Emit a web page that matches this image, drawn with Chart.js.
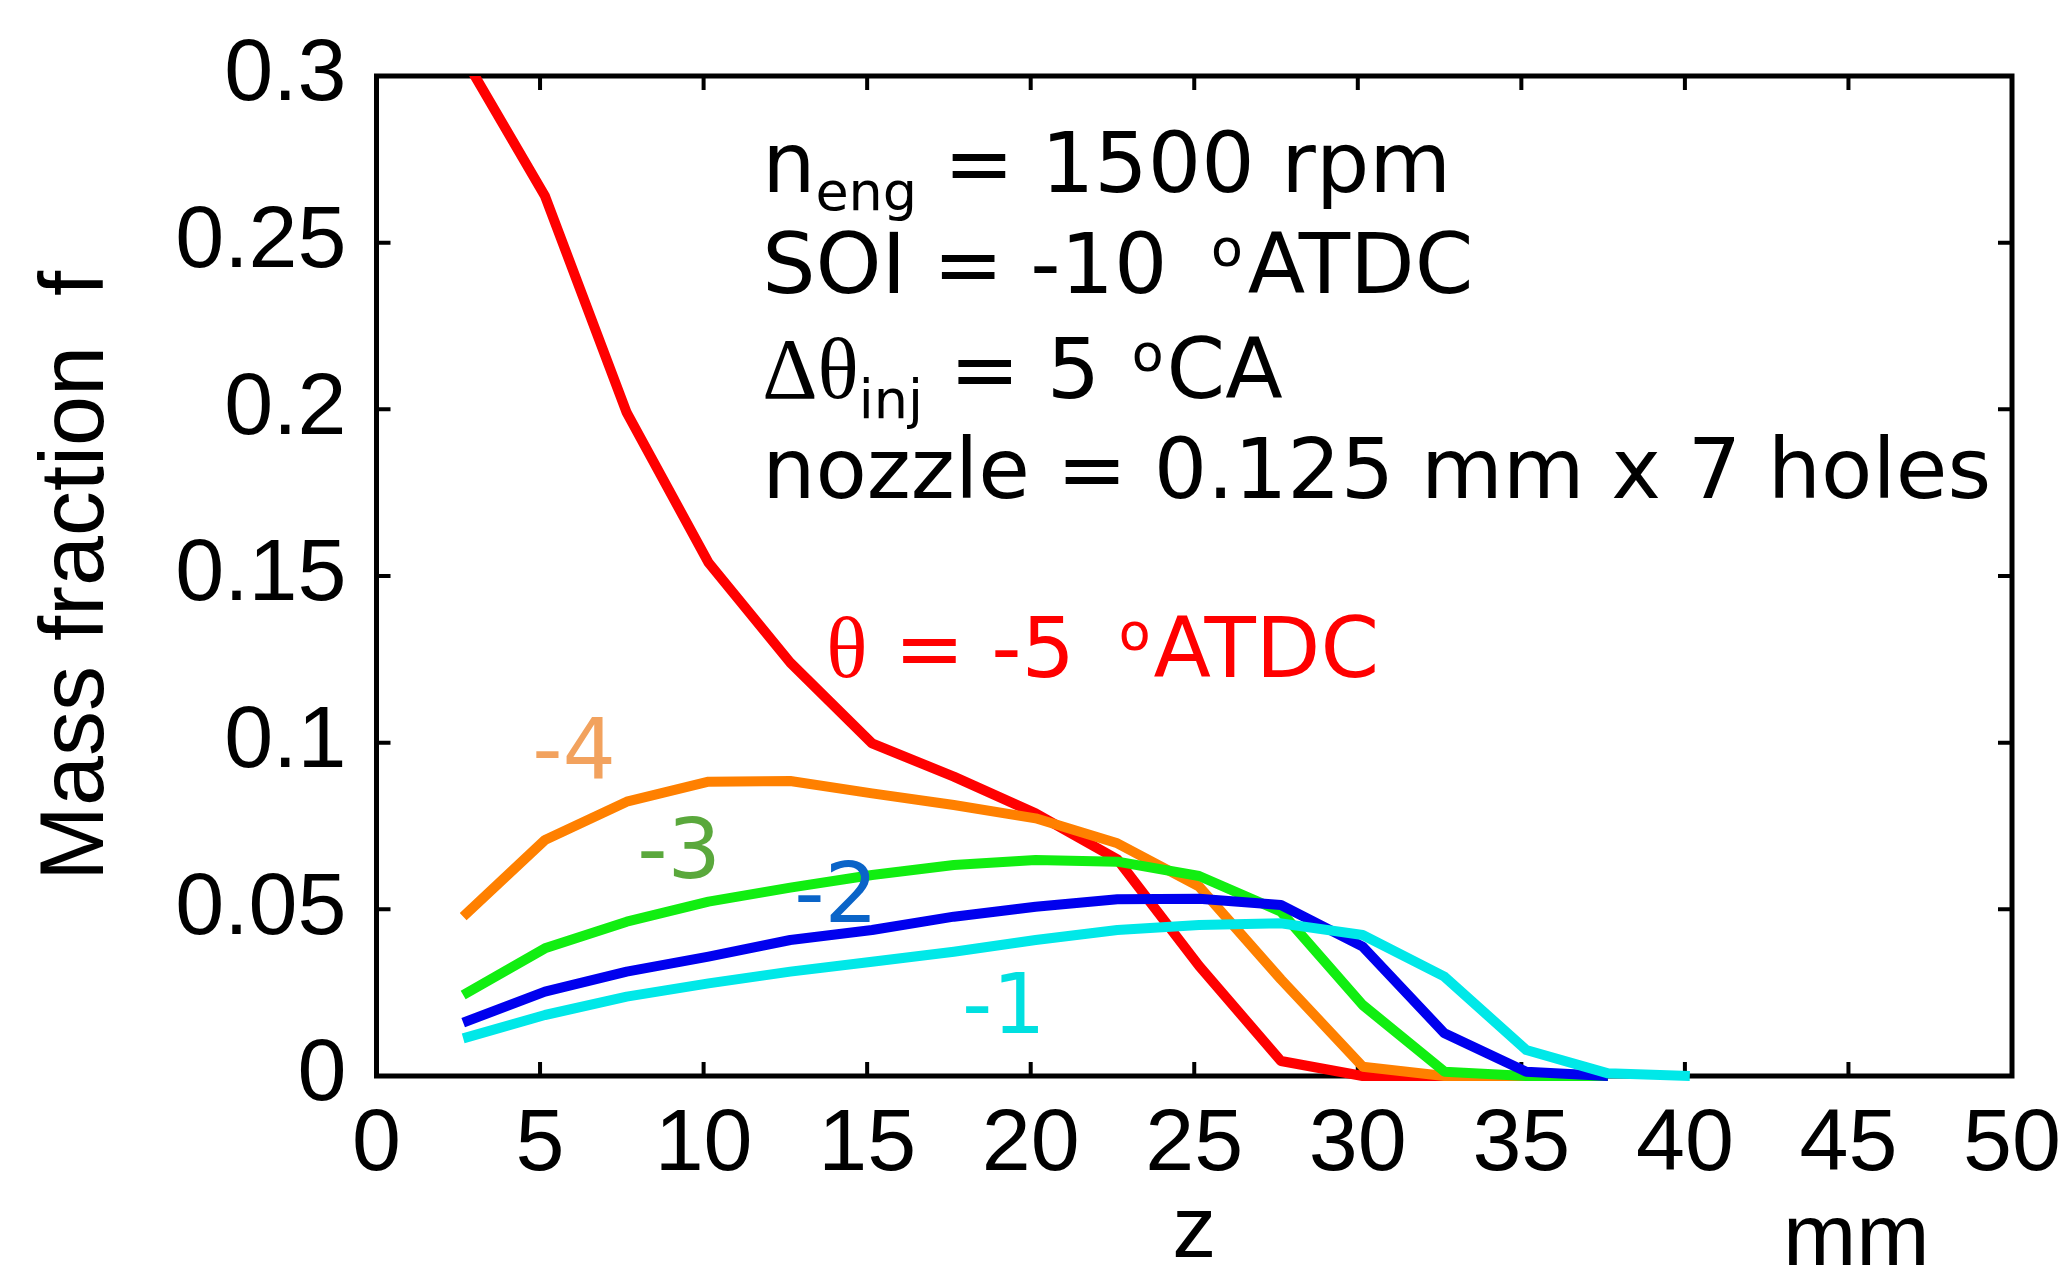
<!DOCTYPE html>
<html><head><meta charset="utf-8">
<script src="https://cdn.jsdelivr.net/npm/chart.js@4.4.1/dist/chart.umd.min.js"></script>
<style>html,body{margin:0;padding:0;background:#fff;}canvas{display:block;}</style>
</head><body>
<canvas id="c" width="2072" height="1279"></canvas>
<script>
// ---- data ----
const zGrid   = [2.65, 5.15, 7.65, 10.15, 12.65, 15.15, 17.65, 20.15, 22.65, 25.15, 27.65, 30.15, 32.65, 35.15, 37.65, 40.15];
const fTheta5 = [0.306, 0.264, 0.199, 0.154, 0.124, 0.0998, 0.0898, 0.0788, 0.065, 0.033, 0.0045, 0, 0];
const fTheta4 = [0.0478, 0.0708, 0.0823, 0.0883, 0.0885, 0.0848, 0.0813, 0.0773, 0.0698, 0.0568, 0.029, 0.0028, 0, 0];
const fTheta3 = [0.0243, 0.0383, 0.0463, 0.0523, 0.0565, 0.0603, 0.0633, 0.0648, 0.0643, 0.0600, 0.0493, 0.0213, 0.0013, 0, 0];
const fTheta2 = [0.016, 0.0253, 0.0313, 0.0358, 0.0408, 0.0438, 0.0478, 0.0508, 0.0530, 0.0532, 0.0513, 0.0388, 0.0128, 0.0013, 0];
const fTheta1 = [0.0113, 0.0183, 0.0238, 0.0278, 0.0313, 0.0343, 0.0373, 0.0408, 0.0438, 0.0453, 0.0458, 0.0423, 0.0298, 0.0078, 0.0008, 0];
const xTicks = [0, 5, 10, 15, 20, 25, 30, 35, 40, 45, 50];
const xTickLabels = ['0', '5', '10', '15', '20', '25', '30', '35', '40', '45', '50'];
const yTicks = [0, 0.05, 0.1, 0.15, 0.2, 0.25, 0.3];
const yTickLabels = ['0', '0.05', '0.1', '0.15', '0.2', '0.25', '0.3'];
const seriesNames = ['-1', '-2', '-3', '-4', '-5'];

function pts(vals) { return vals.map((v, i) => ({ x: zGrid[i], y: v })); }

const MAIN = '84px "DejaVu Sans"';
const SUB = '54px "DejaVu Sans"';
const SUP = '52px "DejaVu Sans"';
const GREEK = '86px "Liberation Serif"';

// text annotations anchored in data coordinates
const notes = [
  { x: 11.79, y: 0.2653, color: '#000', runs: [{ t: 'n' }, { t: 'eng', font: SUB, dy: 18 }, { t: ' = 1500 rpm' }] },
  { x: 11.79, y: 0.2348, color: '#000', runs: [{ t: 'SOI = -10 ' }, { t: 'o', font: SUP, dy: -27, pre: 17, post: 5 }, { t: 'ATDC' }] },
  { x: 11.79, y: 0.2034, color: '#000', runs: [{ t: 'Δθ', font: GREEK }, { t: 'inj', font: SUB, dy: 20 }, { t: ' = 5 ' }, { t: 'o', font: SUP, dy: -27, pre: 5, post: 3 }, { t: 'CA' }] },
  { x: 11.79, y: 0.1734, color: '#000', runs: [{ t: 'nozzle = 0.125 mm x 7 holes' }] },
  { x: 13.75, y: 0.1197, color: '#ff0000', runs: [{ t: 'θ', font: GREEK }, { t: ' = -5 ' }, { t: 'o', font: SUP, dy: -27, pre: 17, post: 3 }, { t: 'ATDC' }] },
  { x: 4.76, y: 0.0894, color: '#f2a25e', runs: [{ t: '-4' }] },
  { x: 7.97, y: 0.0594, color: '#5aa83c', runs: [{ t: '-3' }] },
  { x: 12.77, y: 0.0462, color: '#0a64c8', runs: [{ t: '-2' }] },
  { x: 17.9, y: 0.0129, color: '#00e0e0', runs: [{ t: '-1' }] }
];

const framePlugin = {
  id: 'frame',
  beforeDatasetsDraw(chart) {
    const { ctx, chartArea: a, scales: { x, y } } = chart;
    ctx.save();
    ctx.strokeStyle = '#000';
    ctx.lineWidth = 5;
    ctx.strokeRect(a.left, a.top, a.right - a.left, a.bottom - a.top);
    ctx.lineWidth = 4;
    ctx.beginPath();
    xTicks.forEach(v => {
      const px = x.getPixelForValue(v);
      ctx.moveTo(px, a.bottom); ctx.lineTo(px, a.bottom - 14);
      ctx.moveTo(px, a.top); ctx.lineTo(px, a.top + 14);
    });
    yTicks.forEach(v => {
      const py = y.getPixelForValue(v);
      ctx.moveTo(a.left, py); ctx.lineTo(a.left + 14, py);
      ctx.moveTo(a.right, py); ctx.lineTo(a.right - 14, py);
    });
    ctx.stroke();
    ctx.restore();
  },
  afterDatasetsDraw(chart) {
    const { ctx, scales: { x, y } } = chart;
    ctx.save();
    ctx.textBaseline = 'alphabetic';
    ctx.textAlign = 'left';
    notes.forEach(n => {
      let px = x.getPixelForValue(n.x);
      const base = y.getPixelForValue(n.y);
      ctx.fillStyle = n.color;
      n.runs.forEach(r => {
        ctx.font = r.font || MAIN;
        px += r.pre || 0;
        ctx.fillText(r.t, px, base + (r.dy || 0));
        px += ctx.measureText(r.t).width + (r.post || 0);
      });
    });
    // unit label
    ctx.fillStyle = '#000';
    ctx.font = '88px "Liberation Sans"';
    ctx.fillText('mm', x.getPixelForValue(43.0), 1265);
    ctx.restore();
  }
};

const ds = (label, vals, color) => ({
  label, data: pts(vals), borderColor: color, backgroundColor: color,
  borderWidth: 10, pointRadius: 0, tension: 0, fill: false,
  borderJoinStyle: 'round', borderCapStyle: 'butt',
  clip: { left: 6, right: 6, top: 0, bottom: 6 }
});

new Chart(document.getElementById('c'), {
  type: 'line',
  data: {
    datasets: [
      ds(seriesNames[0], fTheta1, '#00e8e8'),
      ds(seriesNames[1], fTheta2, '#0000ee'),
      ds(seriesNames[2], fTheta3, '#11ee11'),
      ds(seriesNames[3], fTheta4, '#ff8000'),
      ds(seriesNames[4], fTheta5, '#ff0000')
    ]
  },
  options: {
    responsive: false,
    animation: false,
    events: [],
    layout: { padding: { top: 76, right: 60, left: 0, bottom: 0 } },
    plugins: { legend: { display: false }, tooltip: { enabled: false } },
    scales: {
      x: {
        type: 'linear', min: 0, max: 50,
        afterBuildTicks: s => { s.ticks = xTicks.map(v => ({ value: v })); },
        afterFit: s => { s.height = 203; s.paddingLeft = 0; s.paddingRight = 0; },
        grid: { display: false, drawTicks: false },
        border: { display: false },
        ticks: { color: '#000', padding: 17, maxRotation: 0, autoSkip: false,
          font: { family: 'Liberation Sans', size: 88 },
          callback: (v, i) => xTickLabels[i] },
        title: { display: true, text: 'z', color: '#000', padding: { top: 0, bottom: 2 },
          font: { family: 'Liberation Sans', size: 88, lineHeight: 1 } }
      },
      y: {
        type: 'linear', min: 0, max: 0.3,
        afterBuildTicks: s => { s.ticks = yTicks.map(v => ({ value: v })); },
        afterFit: s => { s.width = 376.5; s.paddingTop = 0; s.paddingBottom = 0; },
        grid: { display: false, drawTicks: false },
        border: { display: false },
        ticks: { color: '#000', padding: 30, autoSkip: false,
          font: { family: 'Liberation Sans', size: 88 },
          callback: (v, i) => yTickLabels[i] },
        title: { display: true, text: 'Mass fraction  f', color: '#000', padding: { top: 24, bottom: 0 },
          font: { family: 'Liberation Sans', size: 90 } }
      }
    }
  },
  plugins: [framePlugin]
});
</script>
</body></html>
